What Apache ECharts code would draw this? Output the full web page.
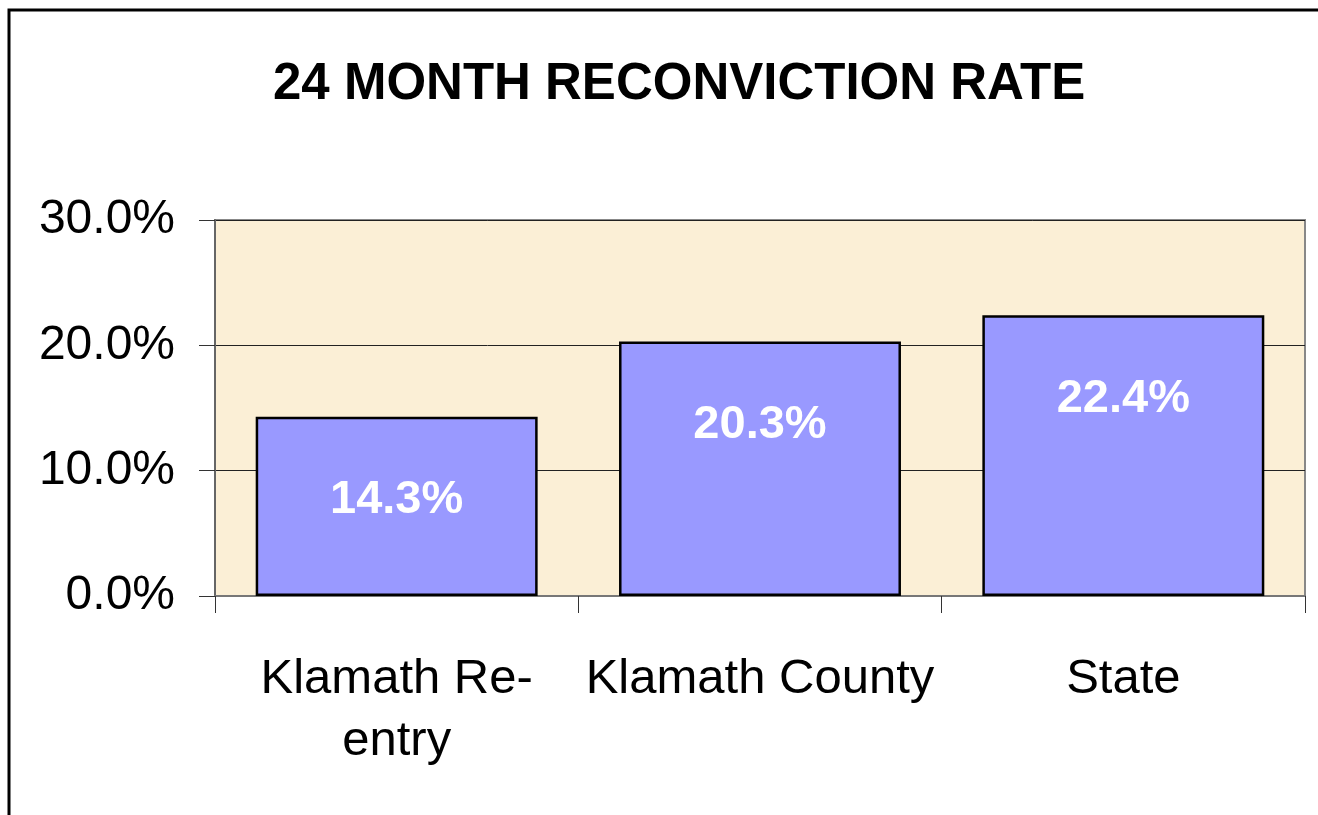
<!DOCTYPE html>
<html>
<head>
<meta charset="utf-8">
<script src="https://cdn.jsdelivr.net/npm/echarts@6/dist/echarts.min.js"></script>
<style>
html,body{margin:0;padding:0;background:#fff;}
#chart{width:1318px;height:815px;}
</style>
</head>
<body>
<div id="chart"></div>
<script>
const titleText = '24 MONTH RECONVICTION RATE';
const categories = ['Klamath Re-entry', 'Klamath County', 'State'];
const rates = [14.3, 20.3, 22.4];
const yTicks = [0, 10, 20, 30];

const FONT = '"Liberation Sans", Arial, sans-serif';
const chart = echarts.init(document.getElementById('chart'), null, {renderer: 'canvas'});
chart.setOption({
  backgroundColor: '#ffffff',
  animation: false,
  title: {
    text: titleText,
    left: 268,
    top: 54,
    textStyle: {fontFamily: FONT, fontWeight: 'bold', fontSize: 51, color: '#000'}
  },
  graphic: [{
    type: 'rect',
    shape: {x: 9, y: 10, width: 1400, height: 900},
    style: {fill: 'none', stroke: '#000', lineWidth: 3},
    silent: true, z: 100
  }],
  grid: {
    left: 215, right: 13, top: 220, bottom: 219,
    show: true, backgroundColor: '#FBEFD6', borderColor: '#888', borderWidth: 2
  },
  xAxis: {
    type: 'category',
    data: categories,
    axisLine: {lineStyle: {color: '#777', width: 2}},
    axisTick: {show: true, alignWithLabel: false, length: 17, lineStyle: {color: '#333', width: 1}},
    axisLabel: {
      fontFamily: FONT, fontSize: 49, color: '#000', margin: 52, lineHeight: 62,
      interval: 0,
      formatter: v => v.replace('Re-entry', 'Re-\nentry')
    },
    splitLine: {show: false}
  },
  yAxis: {
    type: 'value',
    min: yTicks[0], max: yTicks[yTicks.length - 1], interval: 10,
    axisLine: {show: true, lineStyle: {color: '#666', width: 2}},
    axisTick: {show: true, length: 16, lineStyle: {color: '#333', width: 1}},
    axisLabel: {
      fontFamily: FONT, fontSize: 48, color: '#000', margin: 40,
      formatter: v => v.toFixed(1) + '%'
    },
    splitLine: {show: true, lineStyle: {color: '#222', width: 1}}
  },
  series: [{
    type: 'bar',
    data: rates,
    barWidth: '77.6%',
    itemStyle: {color: '#9999FF', borderColor: '#000', borderWidth: 2.5},
    label: {
      show: true, position: 'insideTop', distance: 60,
      fontFamily: FONT, fontWeight: 'bold', fontSize: 47, color: '#fff',
      formatter: p => p.value.toFixed(1) + '%'
    }
  }]
});
</script>
</body>
</html>
